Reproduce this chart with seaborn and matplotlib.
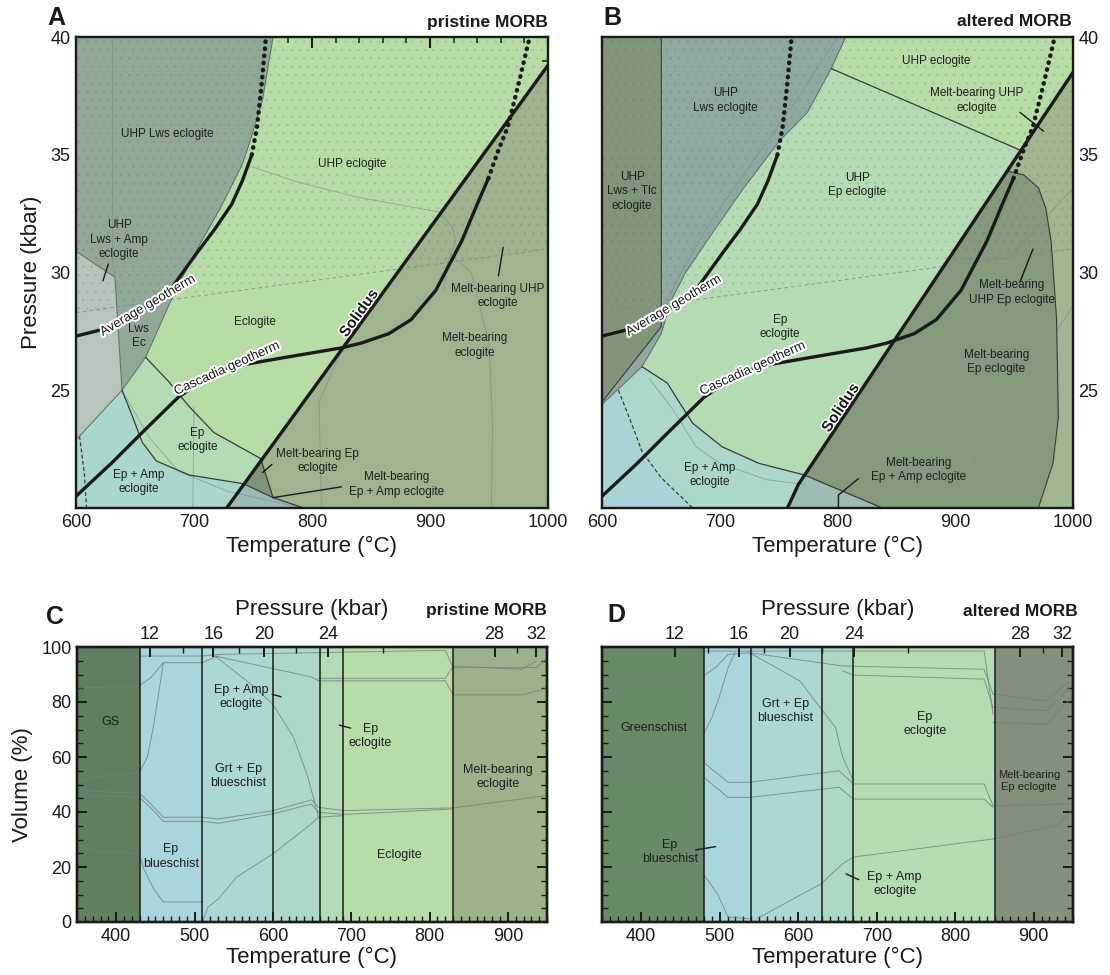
import numpy as np
import matplotlib
matplotlib.use("Agg")
import matplotlib.pyplot as plt
import matplotlib.patheffects as pe
from matplotlib.ticker import MultipleLocator, FixedLocator
import seaborn as sns

# ---------------------------------------------------------------
# Panel A: P-T section, pristine MORB (T in degC, P in kbar)
# ---------------------------------------------------------------
A_lws_T = [600, 767, 758, 747, 741, 723, 705, 684, 659, 639, 633, 600]
A_lws_P = [40, 40, 37.3, 35.5, 34.6, 32.8, 31.2, 29.2, 26.4, 25.0, 29.8, 30.9]
A_lwsamp_T = [600, 633, 639, 603, 600]
A_lwsamp_P = [30.9, 29.8, 25.0, 23.05, 22.9]
A_epamp_T = [600, 603, 639, 647, 656, 668, 696, 742, 767, 793, 600]
A_epamp_P = [22.9, 23.05, 25.0, 24.0, 22.8, 22.0, 21.4, 21.03, 20.44, 20, 20]
A_epecl_T = [659, 678, 696, 717, 756.5, 742, 696, 668, 656, 647, 639]
A_epecl_P = [26.4, 25.4, 24.3, 23.2, 22.1, 21.03, 21.4, 22.0, 22.8, 24.0, 25.0]
A_melt_T = [727.7, 1000, 1000]
A_melt_P = [20, 38.8, 20]
A_meltep_T = [756.5, 742, 767]
A_meltep_P = [22.1, 21.03, 20.44]
A_meltepamp_T = [727.7, 742, 767, 793]
A_meltepamp_P = [20, 21.03, 20.44, 20]
A_solidus_T = [727.7, 1000]
A_solidus_P = [20, 38.8]
A_epecl_top_T = [659, 678, 696, 717, 756.5]
A_epecl_top_P = [26.4, 25.4, 24.3, 23.2, 22.1]
A_epamp_top_T = [639, 647, 656, 668, 696, 742, 767, 793]
A_epamp_top_P = [25.0, 24.0, 22.8, 22.0, 21.4, 21.03, 20.44, 20]
A_lws_edge_T = [767, 758, 747, 741, 723, 705, 684, 659, 639, 603, 600]
A_lws_edge_P = [40, 37.3, 35.5, 34.6, 32.8, 31.2, 29.2, 26.4, 25.0, 23.05, 22.9]
A_lwsamp_edge_T = [600, 633, 639]
A_lwsamp_edge_P = [30.9, 29.8, 25.0]
A_faint = [
    ([631, 631, 633], [40, 30.5, 29.8]),
    ([749, 787, 838.6, 908.5, 919, 922, 914.6, 911.6],
     [34.49, 33.85, 33.2, 32.56, 31.9, 31.35, 30.36, 29.2]),
    ([915, 935, 950, 953, 952], [30.9, 30.0, 27.0, 23.5, 20]),
    ([808, 806, 826], [20, 24.5, 26.8]),
    ([639, 662, 687, 729, 793], [25.0, 23.0, 21.55, 20.7, 20]),
    ([699, 700], [20, 24.3]),
]
A_dash_T = [603, 607, 609]
A_dash_P = [23.05, 21.5, 20]

# ---------------------------------------------------------------
# Panel B: P-T section, altered MORB
# ---------------------------------------------------------------
B_lws_T = [600, 650.3, 807, 794.6, 774.5, 751, 720.5, 692.7, 671, 658.7, 650.3, 634, 600]
B_lws_P = [40, 40, 40, 38.66, 36.8, 35.6, 33.6, 31.6, 30.0, 28.8, 27.4, 26.0, 24.4]
B_tlc_T = [600, 650.3, 650.3, 600]
B_tlc_P = [40, 40, 27.7, 24.5]
B_uhpecl_T = [807, 794.6, 955, 1000, 1000]
B_uhpecl_P = [40, 38.66, 35.2, 38.5, 40]
B_melt_T = [757.5, 766.8, 1000, 1000]
B_melt_P = [20, 21.0, 38.5, 20]
B_meltep_T = [838, 772, 944.4, 958, 970.6, 976.8, 981.5, 986, 987.6, 983, 970.6]
B_meltep_P = [20, 21.4, 34.3, 34.15, 33.6, 32.75, 31.3, 28.06, 23.85, 21.9, 20]
B_meltepamp_T = [757.5, 766.8, 772, 838]
B_meltepamp_P = [20, 21.0, 21.4, 20]
B_epamp_T = [600, 634, 655.6, 663, 677, 702, 733, 772, 766.8, 757.5, 600]
B_epamp_P = [24.4, 26.0, 25.3, 24.7, 23.6, 22.6, 21.9, 21.4, 21.0, 20, 20]
B_blue_T = [600, 614, 625, 634, 650, 677, 600]
B_blue_P = [24.4, 25.0, 23.6, 22.4, 21.3, 20.0, 20]
B_solidus_T = [757.5, 766.8, 1000]
B_solidus_P = [20, 21.0, 38.5]
B_epecl_low_T = [634, 655.6, 663, 677, 702, 733, 772, 838]
B_epecl_low_P = [26.0, 25.3, 24.7, 23.6, 22.6, 21.9, 21.4, 20]
B_uhp_edge_T = [794.6, 955]
B_uhp_edge_P = [38.66, 35.2]
B_lws_edge_T = [807, 794.6, 774.5, 751, 720.5, 692.7, 671, 658.7, 650.3, 634, 600]
B_lws_edge_P = [40, 38.66, 36.8, 35.6, 33.6, 31.6, 30.0, 28.8, 27.4, 26.0, 24.4]
B_tlc_edge_T = [650.3, 650.3, 600]
B_tlc_edge_P = [40, 27.7, 24.5]
B_faint = [
    ([800, 765, 725, 690, 662, 652], [40, 37.3, 34.5, 32.0, 29.5, 28.3]),
    ([890, 1000], [20, 28.6]),
    ([949, 1000], [30.8, 33.6]),
    ([640, 660, 680, 700, 740, 772], [25.5, 24.2, 22.6, 21.9, 21.2, 21.0]),
]
B_dash_T = [614, 625, 634, 650, 677]
B_dash_P = [25.0, 23.6, 22.4, 21.3, 20.0]

# Boundary between eclogite and UHP eclogite (both panels)
uhp_T = [600, 1000]
uhp_P = [28.3, 31.0]

# Geotherms (shared by A and B)
avg_T = [600, 620, 635, 660, 677.5, 702, 717, 732, 741, 749]
avg_P = [27.3, 27.55, 27.9, 28.55, 29.1, 30.8, 31.8, 32.9, 33.9, 35.0]
avg_dot_T = [749, 753.5, 757.4, 761]
avg_dot_P = [35.0, 36.2, 38.05, 40]
cas_T = [600, 630, 656, 686.6, 710, 732, 778, 825, 841.6, 865, 884, 905, 927, 940, 949.5]
cas_P = [20.5, 21.9, 23.2, 24.7, 25.5, 26.0, 26.4, 26.8, 27.0, 27.4, 28.0, 29.25, 31.35, 32.9, 34.0]
cas_dot_T = [949.5, 958, 966, 975, 984.5]
cas_dot_P = [34.0, 35.2, 36.2, 38.0, 40]

# ---------------------------------------------------------------
# Panels C and D: mineral modes along the Cascadia geotherm
# ---------------------------------------------------------------
C_edges = [350, 430, 510, 600, 660, 690, 830, 950]
C_colors = ["#5f7f5f", "#a9d5dc", "#acd8d3", "#acd8c6", "#b2dbb6", "#b8dca8", "#9ab38c"]
D_edges = [350, 480, 540, 630, 670, 850, 950]
D_colors = ["#688a67", "#a9d5dc", "#acd8d3", "#acd8c6", "#b5dbb2", "#83917a"]

press_ticks = [12, 16, 20, 24, 28, 32]
press_tick_T = [443, 524, 589, 671, 883, 936]
press_minor_T = [485, 557, 630, 740, 912]

C_modes = [
    ([350, 509.5, 530.9, 820.2, 830.2, 936.3, 950], [96.7, 96.7, 97.3, 98.8, 92.5, 92.5, 95.9]),
    ([350, 429.7, 444.3, 460.3, 510.4, 526.3, 530.9], [85.0, 85.9, 88.9, 94.3, 94.3, 96.4, 96.7]),
    ([350, 366.9, 429.7, 439.7, 446.6, 453.4, 460.3], [51.1, 52.4, 54.4, 59.9, 69.5, 81.6, 94.3]),
    ([350, 371.4, 429.7, 435.2, 448.9, 460.3, 510.4], [28.2, 25.8, 24.8, 19.3, 11.5, 7.3, 7.3]),
    ([350, 429.7, 444.3, 460.3, 509.5, 530.9, 600.1, 649.3, 658.4, 690.3, 830.2, 950],
     [47.8, 46.8, 42.9, 38.1, 38.1, 37.5, 40.5, 44.4, 41.7, 40.5, 41.5, 46.0]),
    ([350, 429.7, 444.3, 460.3, 509.5, 530.9, 600.1, 649.3, 658.4, 690.3, 830.2],
     [46.3, 45.3, 41.5, 36.6, 36.6, 35.9, 39.3, 42.9, 39.9, 39.1, 41.1]),
    ([510.4, 517.2, 530.9, 553.6, 600.1, 649.3, 658.4, 690.3], [0, 5.4, 8.5, 16.3, 24.8, 35.7, 38.1, 38.7]),
    ([526.3, 571.9, 600.1, 626.5, 644.8, 653.9, 658.4], [96.7, 86.5, 79.2, 67.1, 52.6, 42.9, 38.1]),
    ([526.3, 649.3, 658.4, 820.2, 830.2, 918.1, 950], [96.7, 89.1, 87.7, 87.7, 82.6, 82.6, 85.0]),
    ([658.4, 820.2, 830.2, 918.1, 936.3], [88.6, 88.6, 93.1, 91.9, 94.9]),
]
D_modes = [
    ([350, 510.6, 836.8, 848.2], [98.5, 98.5, 98.5, 75.6]),
    ([350, 479.6, 496.9, 510.6, 538, 656.6, 836.8, 848.2, 916.7, 939.5, 950],
     [87.7, 89.5, 93.1, 97.3, 97.9, 93.1, 91.9, 82.8, 80.4, 86.5, 87.7]),
    ([350, 364.6, 479.6, 490.1, 499.2, 510.6, 519.7], [60.5, 62.9, 68.3, 74.4, 81.6, 92.5, 97.9]),
    ([350, 479.6, 510.6, 538, 652, 670.3, 836.8, 848.2, 950], [59.3, 58.0, 50.8, 50.8, 55.0, 50.2, 50.2, 42.3, 42.9]),
    ([350, 479.6, 510.6, 538, 652, 670.3, 836.8, 848.2], [53.8, 52.6, 45.3, 45.3, 49.0, 44.7, 44.7, 41.7]),
    ([350, 479.6, 496.9, 510.6, 538], [19.3, 17.3, 10.3, 1.8, 1.2]),
    ([547.1, 629.2, 656.6, 670.3, 848.2, 930.4, 950], [1.2, 13.9, 21.2, 23.6, 30.2, 35.1, 41.1]),
    ([538, 601.9, 647.5, 656.6, 670.3], [97.9, 87.7, 70.7, 59.9, 51.4]),
    ([656.6, 670.3, 836.8, 848.2, 916.7, 950], [91.3, 89.8, 88.3, 78.0, 76.8, 86.5]),
    ([848.2, 916.7, 939.5, 950], [72.6, 71.9, 79.2, 81.6]),
]

# ---------------------------------------------------------------
# Field labels (T, value, text)
# ---------------------------------------------------------------
A_labels = [
    (677, 35.9, "UHP Lws eclogite"),
    (834, 34.6, "UHP eclogite"),
    (636.5, 31.4, "UHP\nLws + Amp\neclogite"),
    (957, 29.0, "Melt-bearing UHP\neclogite"),
    (752, 27.9, "Eclogite"),
    (653, 27.3, "Lws\nEc"),
    (938, 26.9, "Melt-bearing\neclogite"),
    (703, 22.9, "Ep\neclogite"),
    (805, 22.0, "Melt-bearing Ep\neclogite"),
    (653, 21.1, "Ep + Amp\neclogite"),
    (872, 21.0, "Melt-bearing\nEp + Amp eclogite"),
]
A_pointers = [([622.8, 627.4], [29.64, 30.36]), ([958, 962], [29.86, 31.07]),
              ([758, 766], [21.5, 21.85]), ([825, 767], [20.9, 20.44])]
B_labels = [
    (884, 39.0, "UHP eclogite"),
    (918, 37.3, "Melt-bearing UHP\neclogite"),
    (705, 37.3, "UHP\nLws eclogite"),
    (625.6, 33.45, "UHP\nLws + Tlc\neclogite"),
    (817, 33.7, "UHP\nEp eclogite"),
    (948, 29.15, "Melt-bearing\nUHP Ep eclogite"),
    (751, 27.7, "Ep\neclogite"),
    (935, 26.2, "Melt-bearing\nEp eclogite"),
    (691.7, 21.4, "Ep + Amp\neclogite"),
    (869, 21.6, "Melt-bearing\nEp + Amp eclogite"),
]
B_pointers = [([955, 975], [36.8, 36.0]), ([955, 966], [29.6, 31.0]),
              ([817.8, 800.8, 800.8], [21.25, 20.55, 20.0])]
C_labels = [
    (392, 72.9, "GS"),
    (470, 23.8, "Ep\nblueschist"),
    (559.6, 81.9, "Ep + Amp\neclogite"),
    (556, 53.2, "Grt + Ep\nblueschist"),
    (724.5, 67.7, "Ep\neclogite"),
    (761, 24.2, "Eclogite"),
    (887.6, 52.6, "Melt-bearing\neclogite"),
]
C_pointers = [([599, 610.6], [82.8, 81.9]), ([684.8, 699.4], [71.6, 70.5])]
D_labels = [
    (416, 70.7, "Greenschist"),
    (436.7, 25.4, "Ep\nblueschist"),
    (583.6, 76.8, "Grt + Ep\nblueschist"),
    (761.5, 72, "Ep\neclogite"),
    (722.8, 13.9, "Ep + Amp\neclogite"),
    (894, 51.4, "Melt-bearing\nEp eclogite"),
]
D_pointers = [([469.5, 494.6], [26.2, 27.4]), ([661, 677], [17.5, 15.4])]

# ---------------------------------------------------------------
sns.set_theme(style="ticks", context="notebook")
plt.rcParams["font.family"] = ["Liberation Sans", "DejaVu Sans"]
plt.rcParams["hatch.linewidth"] = 0.5
plt.rcParams["text.color"] = "k"
plt.rcParams["axes.labelcolor"] = "k"
plt.rcParams["xtick.color"] = "k"
plt.rcParams["ytick.color"] = "k"

TXT = "#1e1e1e"
EDGE = "#3a3a3a"
FAINT = "#7f8c86"

fig = plt.figure(figsize=(11.1, 9.75), dpi=100)
W, H = 1110.0, 975.0
axA = fig.add_axes([76 / W, 1 - 508 / H, 472 / W, 471 / H])
axB = fig.add_axes([602 / W, 1 - 508 / H, 471 / W, 471 / H])
axC = fig.add_axes([77 / W, 1 - 922 / H, 470 / W, 275 / H])
axD = fig.add_axes([602 / W, 1 - 922 / H, 471 / W, 275 / H])


def poly(ax, T, P, color, z=1):
    ax.fill(T, P, facecolor=color, edgecolor="none", zorder=z)


def line(ax, T, P, color="k", lw=1.0, ls="-", z=3, alpha=1.0, **kw):
    sns.lineplot(x=T, y=P, ax=ax, color=color, lw=lw, linestyle=ls, sort=False,
                 estimator=None, zorder=z, alpha=alpha, legend=False, **kw)


def stipple(ax, T, P):
    ax.fill([T[0], T[1], T[1], T[0]], [P[0], P[1], 40, 40], facecolor="none",
            edgecolor=(0.3, 0.4, 0.32, 0.16), lw=0, hatch="..", zorder=2)


def along(ax, Ts, Ps, Tc, text, size, weight="normal", halo=3.0, va="center"):
    Pc = np.interp(Tc, Ts, Ps)
    d = 3.0
    a = ax.transData.transform((Tc - d, np.interp(Tc - d, Ts, Ps)))
    b = ax.transData.transform((Tc + d, np.interp(Tc + d, Ts, Ps)))
    ang = np.degrees(np.arctan2(b[1] - a[1], b[0] - a[0]))
    ax.text(Tc, Pc, text, rotation=ang, rotation_mode="anchor", ha="center", va=va,
            fontsize=size, fontweight=weight, color="k", zorder=7,
            path_effects=[pe.withStroke(linewidth=halo, foreground="white")])


def labels(ax, items, size=8.5):
    for t, v, s in items:
        ax.text(t, v, s, ha="center", va="center", fontsize=size, color=TXT,
                linespacing=1.25, zorder=6)


def style_pt(ax, right=False):
    ax.set_xlim(600, 1000)
    ax.set_ylim(20, 40)
    ax.xaxis.set_major_locator(MultipleLocator(100))
    ax.xaxis.set_minor_locator(MultipleLocator(20))
    ax.yaxis.set_major_locator(FixedLocator([20, 25, 30, 35, 40]))
    ax.set_yticklabels(["", "25", "30", "35", "40"])
    ax.yaxis.set_minor_locator(MultipleLocator(1))
    ax.tick_params(which="both", direction="in", top=True, right=True, left=True, bottom=True,
                   colors="k")
    ax.tick_params(which="major", length=8, width=1.5, labelsize=13, pad=4)
    ax.tick_params(which="minor", length=4.5, width=1.1)
    if right:
        ax.tick_params(labelleft=False, labelright=True)
    for s in ax.spines.values():
        s.set_linewidth(1.7)
        s.set_color("k")
        s.set_zorder(8)
    ax.set_xlabel("Temperature (°C)", fontsize=16, labelpad=4)
    ax.set_ylabel("")


for ax in (axA, axB):
    style_pt(ax, right=(ax is axB))

# ---------------- Panel A ----------------
axA.set_facecolor("#b8dca6")
poly(axA, A_melt_T, A_melt_P, "#9db48e")
poly(axA, A_lws_T, A_lws_P, "#8fa898")
poly(axA, A_lwsamp_T, A_lwsamp_P, "#b5c5b9")
poly(axA, A_epamp_T, A_epamp_P, "#a9d7cb")
poly(axA, A_epecl_T, A_epecl_P, "#b4dbb4")
poly(axA, A_meltepamp_T, A_meltepamp_P, "#9bbab3", z=1.5)
poly(axA, A_meltep_T, A_meltep_P, "#7f9479", z=1.5)
stipple(axA, uhp_T, uhp_P)
for t, p in A_faint:
    line(axA, t, p, color=FAINT, lw=0.6, alpha=0.7, z=2.5)
line(axA, uhp_T, uhp_P, color=FAINT, lw=0.7, ls=(0, (4, 3)), alpha=0.8, z=2.5)
line(axA, A_dash_T, A_dash_P, color=EDGE, lw=0.9, ls=(0, (3, 2)), z=3)
line(axA, A_lws_edge_T, A_lws_edge_P, color="#5e6a63", lw=0.7, z=3)
line(axA, A_lwsamp_edge_T, A_lwsamp_edge_P, color="#5e6a63", lw=0.7, z=3)
line(axA, A_epecl_top_T, A_epecl_top_P, color=EDGE, lw=0.9, z=3)
line(axA, A_epamp_top_T, A_epamp_top_P, color=EDGE, lw=0.9, z=3)
line(axA, [A_meltep_T[0], A_meltep_T[2]], [A_meltep_P[0], A_meltep_P[2]], color=EDGE, lw=0.9, z=3)
for t, p in A_pointers:
    line(axA, t, p, color="k", lw=1.0, z=5)

# ---------------- Panel B ----------------
axB.set_facecolor("#b5dbb5")
poly(axB, B_melt_T, B_melt_P, "#9fb791")
poly(axB, B_meltep_T, B_meltep_P, "#849a7c", z=1.5)
poly(axB, B_meltepamp_T, B_meltepamp_P, "#9cbcb4", z=1.5)
poly(axB, B_uhpecl_T, B_uhpecl_P, "#b8dca6")
poly(axB, B_lws_T, B_lws_P, "#8fa9a0")
poly(axB, B_tlc_T, B_tlc_P, "#7f9778", z=1.2)
poly(axB, B_epamp_T, B_epamp_P, "#acd8cc")
poly(axB, B_blue_T, B_blue_P, "#a8d4d7", z=1.2)
stipple(axB, uhp_T, uhp_P)
for t, p in B_faint:
    line(axB, t, p, color=FAINT, lw=0.6, alpha=0.7, z=2.5)
line(axB, uhp_T, uhp_P, color=FAINT, lw=0.7, ls=(0, (4, 3)), alpha=0.8, z=2.5)
line(axB, B_dash_T, B_dash_P, color=EDGE, lw=0.9, ls=(0, (3, 2)), z=3)
line(axB, B_lws_edge_T, B_lws_edge_P, color="#5e6a63", lw=0.7, z=3)
line(axB, B_tlc_edge_T, B_tlc_edge_P, color=EDGE, lw=0.8, z=3)
line(axB, B_epecl_low_T, B_epecl_low_P, color=EDGE, lw=0.9, z=3)
line(axB, B_uhp_edge_T, B_uhp_edge_P, color=EDGE, lw=0.9, z=3)
line(axB, B_meltep_T[2:], B_meltep_P[2:], color=EDGE, lw=0.8, z=3)
for t, p in B_pointers:
    line(axB, t, p, color="k", lw=1.0, z=5)

# Geotherms and solidus on both P-T panels
for ax, sT, sP in ((axA, A_solidus_T, A_solidus_P), (axB, B_solidus_T, B_solidus_P)):
    line(ax, avg_T, avg_P, color="k", lw=2.4, z=4)
    line(ax, cas_T, cas_P, color="k", lw=2.4, z=4)
    line(ax, avg_dot_T, avg_dot_P, color="k", lw=3.2, ls=(0, (0.1, 1.5)), z=4,
         dash_capstyle="round")
    line(ax, cas_dot_T, cas_dot_P, color="k", lw=3.2, ls=(0, (0.1, 1.5)), z=4,
         dash_capstyle="round")
    line(ax, sT, sP, color="k", lw=2.4, z=4)
    along(ax, avg_T, avg_P, 661, "Average geotherm", 9.5)
    along(ax, cas_T, cas_P, 728, "Cascadia geotherm", 9.5)

along(axA, A_solidus_T, A_solidus_P, 845, "Solidus", 11, weight="bold", halo=2.0, va="bottom")
along(axB, B_solidus_T, B_solidus_P, 808, "Solidus", 11, weight="bold", halo=2.0, va="bottom")
labels(axA, A_labels)
labels(axB, B_labels)
axA.set_ylabel("Pressure (kbar)", fontsize=16, labelpad=6)


# ---------------- Panels C and D ----------------
def style_mode(ax, show_y):
    ax.set_xlim(350, 950)
    ax.set_ylim(0, 100)
    ax.xaxis.set_major_locator(MultipleLocator(100))
    ax.xaxis.set_minor_locator(MultipleLocator(10))
    ax.yaxis.set_major_locator(MultipleLocator(20))
    ax.yaxis.set_minor_locator(MultipleLocator(5))
    ax.tick_params(which="both", direction="in", top=False, right=True, left=True, bottom=True,
                   colors="k")
    ax.tick_params(which="major", length=7, width=1.4, labelsize=13, pad=4)
    ax.tick_params(which="minor", length=4, width=1.0)
    if not show_y:
        ax.tick_params(labelleft=False)
    for s in ax.spines.values():
        s.set_linewidth(1.7)
        s.set_color("k")
        s.set_zorder(8)
    ax.set_xlabel("Temperature (°C)", fontsize=16, labelpad=2)
    top = ax.twiny()
    top.set_xlim(350, 950)
    top.set_xticks(press_tick_T)
    top.set_xticklabels([str(p) for p in press_ticks])
    top.xaxis.set_minor_locator(FixedLocator(press_minor_T))
    top.tick_params(which="both", direction="in", colors="k")
    top.tick_params(which="major", length=7, width=1.4, labelsize=13, pad=3)
    top.tick_params(which="minor", length=4, width=1.0)
    top.set_xlabel("Pressure (kbar)", fontsize=16, labelpad=8)
    for s in top.spines.values():
        s.set_linewidth(1.7)
        s.set_color("k")
    return top


for ax, edges, cols, modes, labs, ptrs, show_y in (
        (axC, C_edges, C_colors, C_modes, C_labels, C_pointers, True),
        (axD, D_edges, D_colors, D_modes, D_labels, D_pointers, False)):
    for lo, hi, c in zip(edges[:-1], edges[1:], cols):
        ax.axvspan(lo, hi, facecolor=c, edgecolor="none", zorder=0)
    for t, v in modes:
        line(ax, t, v, color="#72827e", lw=0.7, alpha=0.8, z=2)
    for e in edges[1:-1]:
        ax.axvline(e, color="k", lw=1.1, zorder=3)
    for t, v in ptrs:
        line(ax, t, v, color="k", lw=1.0, z=5)
    style_mode(ax, show_y)
    if ax is axD:
        labels(ax, labs[:-1], size=9)
        t, v, s = labs[-1]
        ax.text(t, v, s, ha="center", va="center", fontsize=8, color=TXT, linespacing=1.25, zorder=6)
    else:
        labels(ax, labs, size=9)

axC.set_ylabel("Volume (%)", fontsize=16, labelpad=6)

# Panel letters and bulk-composition tags
fig.text(56 / W, 1 - 18 / H, "A", fontsize=18, fontweight="bold", ha="center", va="center")
fig.text(612 / W, 1 - 18 / H, "B", fontsize=18, fontweight="bold", ha="center", va="center")
fig.text(55 / W, 1 - 617 / H, "C", fontsize=18, fontweight="bold", ha="center", va="center")
fig.text(616 / W, 1 - 615 / H, "D", fontsize=18, fontweight="bold", ha="center", va="center")
fig.text(548 / W, 1 - 22 / H, "pristine MORB", fontsize=12.5, fontweight="bold", ha="right", va="center")
fig.text(1072 / W, 1 - 22 / H, "altered MORB", fontsize=12.5, fontweight="bold", ha="right", va="center")
fig.text(547 / W, 1 - 611 / H, "pristine MORB", fontsize=12.5, fontweight="bold", ha="right", va="center")
fig.text(1078 / W, 1 - 611 / H, "altered MORB", fontsize=12.5, fontweight="bold", ha="right", va="center")

fig.savefig("out.png", dpi=100)
